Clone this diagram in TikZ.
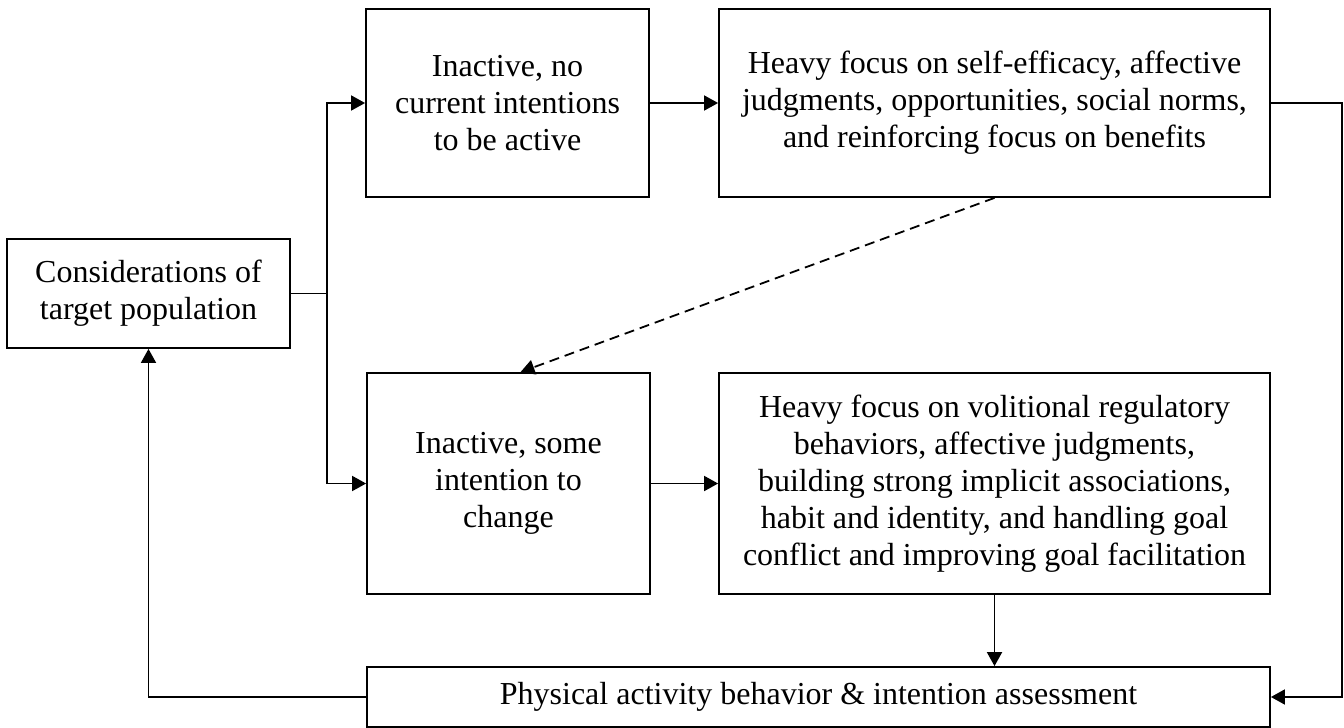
\documentclass[tikz,border=0pt]{standalone}
\usepackage{fontspec}
\setmainfont{Liberation Serif}
\usetikzlibrary{arrows.meta,calc}
\begin{document}
\begin{tikzpicture}[x=1pt,y=-1pt,
  box/.style={draw,line width=1.8pt,rectangle,align=center,inner sep=0pt,
    font=\fontsize{32}{37}\selectfont},
  conn/.style={line width=1.8pt},
  arr/.style={conn,-{Triangle[length=14pt,width=15pt]}},
  dsh/.style={arr,dash pattern=on 10pt off 6pt}]
\useasboundingbox (0,0) rectangle (1344,728);
\node[box,minimum width=283pt,minimum height=109pt] (A) at (148.5,293.5) {Considerations of\\target population};
\node[box,minimum width=283pt,minimum height=188pt] (B) at (507.5,103) {Inactive, no\\current intentions\\to be active};
\node[box,minimum width=551pt,minimum height=188pt] (C) at (994.5,103) {Heavy focus on self-efficacy, affective\\judgments, opportunities, social norms,\\and reinforcing focus on benefits};
\node[box,minimum width=283pt,minimum height=221pt] (D) at (508.5,483.5) {Inactive, some\\intention to\\change};
\node[box,minimum width=551pt,minimum height=221pt] (E) at (994.5,483.5) {Heavy focus on volitional regulatory\\behaviors, affective judgments,\\building strong implicit associations,\\habit and identity, and handling goal\\conflict and improving goal facilitation};
\node[box,minimum width=903pt,minimum height=60pt] (F) at (818.5,697) {Physical activity behavior \& intention assessment};
\coordinate (J) at (327,0);
\coordinate (R) at (1342,0);
\draw[arr] (A.east) -- (A.east -| J) |- (B.west);
\draw[arr] (A.east -| J) |- (D.west);
\draw[arr] (B.east) -- (C.west);
\draw[arr] (D.east) -- (E.west);
\draw[arr] (C.east) -- (C.east -| R) |- (F.east);
\draw[arr] (E.south) -- (E.south |- F.north);
\draw[dsh] (C.south) -- ([xshift=12pt]D.north);
\draw[arr] (F.west) -| (A.south);
\end{tikzpicture}
\end{document}
